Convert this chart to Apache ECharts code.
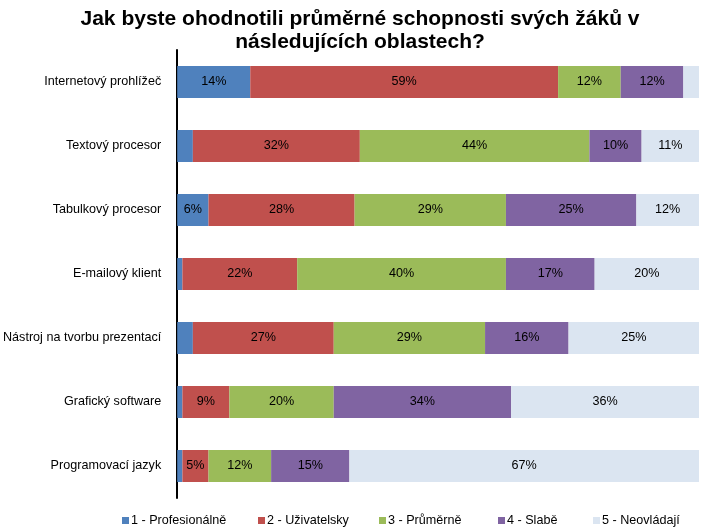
<!DOCTYPE html>
<html>
<head>
<meta charset="utf-8">
<script src="https://cdn.jsdelivr.net/npm/echarts@6/dist/echarts.min.js"></script>
<style>
html,body{margin:0;padding:0;background:#fff;}
#chart{width:702px;height:527px;}
</style>
</head>
<body>
<div id="chart"></div>
<script>
const categories = ['Internetový prohlížeč','Textový procesor','Tabulkový procesor','E-mailový klient','Nástroj na tvorbu prezentací','Grafický software','Programovací jazyk'];
const seriesNames = ['1 - Profesionálně','2 - Uživatelsky','3 - Průměrně','4 - Slabě','5 - Neovládají'];
const profesionalne = [14, 3, 6, 1, 3, 1, 1];
const uzivatelsky   = [59, 32, 28, 22, 27, 9, 5];
const prumerne      = [12, 44, 29, 40, 29, 20, 12];
const slabe         = [12, 10, 25, 17, 16, 34, 15];
const neovladaji    = [3, 11, 12, 20, 25, 36, 67];
const seriesData = [profesionalne, uzivatelsky, prumerne, slabe, neovladaji];
const colors = ['#4F81BD','#C0504D','#9BBB59','#8064A2','#DBE5F1'];
const FONT = '"Liberation Sans", Arial, sans-serif';
const FS = 12.6;

const legendLefts = [117, 253, 374, 493, 588];

const chart = echarts.init(document.getElementById('chart'));
chart.setOption({
  animation: false,
  color: colors,
  title: {
    text: 'Jak byste ohodnotili průměrné schopnosti svých žáků v\nnásledujících oblastech?',
    left: 355,
    textAlign: 'center',
    top: 3,
    textStyle: { fontFamily: FONT, fontSize: 21, fontWeight: 'bold', color: '#000', lineHeight: 23 }
  },
  legend: seriesNames.map((n, i) => ({
    data: [n],
    left: legendLefts[i],
    top: 509,
    itemWidth: 7,
    itemHeight: 7,
    icon: 'rect',
    selectedMode: false,
    textStyle: { fontFamily: FONT, fontSize: FS, color: '#000', padding: [0, 0, 0, -3] }
  })),
  grid: { left: 177, right: 3, top: 50, bottom: 29, containLabel: false },
  xAxis: { type: 'value', min: 0, max: 100, show: false },
  yAxis: {
    type: 'category',
    data: categories,
    inverse: true,
    axisLine: { show: true, lineStyle: { color: '#000', width: 2 } },
    axisTick: { show: false },
    axisLabel: { fontFamily: FONT, fontSize: FS, color: '#000', margin: 16 },
    splitLine: { show: false }
  },
  series: seriesNames.map((n, i) => ({
    name: n,
    type: 'bar',
    stack: 'total',
    barCategoryGap: '50%',
    data: seriesData[i],
    itemStyle: { color: colors[i] },
    label: {
      show: true,
      position: 'inside',
      color: '#000',
      fontFamily: FONT,
      fontSize: FS,
      formatter: p => (p.value >= 5 ? p.value + '%' : '')
    }
  }))
});
</script>
</body>
</html>
